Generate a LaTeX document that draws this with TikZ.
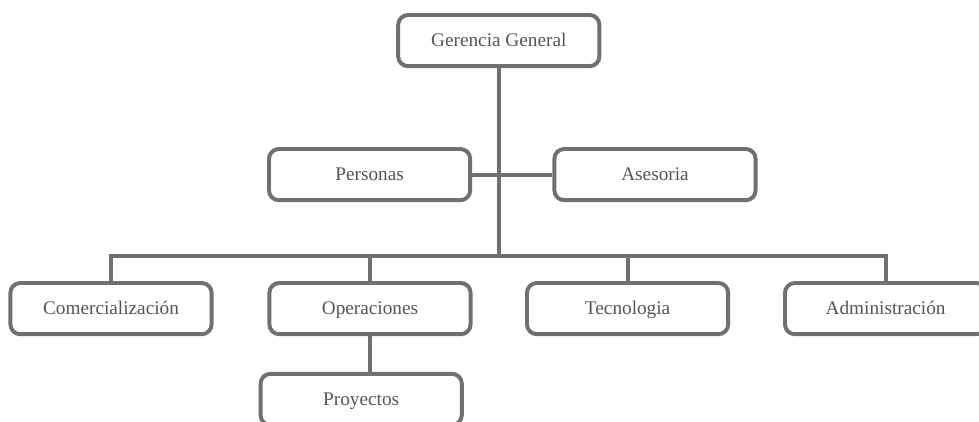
\documentclass[tikz,border=0pt]{standalone}
\usepackage{fontspec}
\setmainfont{Liberation Serif}
\definecolor{linegray}{RGB}{112,112,112}
\definecolor{textgray}{RGB}{85,85,85}

\begin{document}
\begin{tikzpicture}[
    unit/.style={draw=linegray, line width=2.8pt, rounded corners=7pt, fill=white,
                 minimum width=5.03cm, minimum height=1.28cm, inner sep=0pt,
                 text height=2.05ex, text depth=0.3ex,
                 text=textgray, font=\fontsize{13.7}{16}\selectfont},
    link/.style={draw=linegray, line width=2.8pt}
]

% Page frame
\useasboundingbox (0,0) rectangle (24.475,10.525);
\clip (0,0) rectangle (24.475,10.525);

% Top levels
\node[unit] (gg) at (12.47, 9.51) {Gerencia General};
\node[unit] (per) at (9.24, 6.16) {Personas};
\node[unit] (ase) at (16.375, 6.16) {Asesoria};

% Departments
\coordinate (bus) at (12.45, 4.125);
\node[unit] (com) at (2.775, 2.81) {Comercialización};
\node[unit] (ope) at (9.25, 2.81) {Operaciones};
\node[unit] (tec) at (15.69, 2.81) {Tecnologia};
\node[unit] (adm) at (22.14, 2.81) {Administración};
\node[unit] (pro) at (9.03, 0.54) {Proyectos};

% Connectors
\draw[link] (gg.south) -- (gg.south |- bus);
\draw[link] (per.east) -- (ase.west);
\draw[link] (com.north) |- (bus) -| (adm.north);
\foreach \n in {ope, tec}
    \draw[link] (\n.north) -- (\n.north |- bus);
\draw[link] (ope.south) -- (ope.south |- pro.north);

\end{tikzpicture}
\end{document}
